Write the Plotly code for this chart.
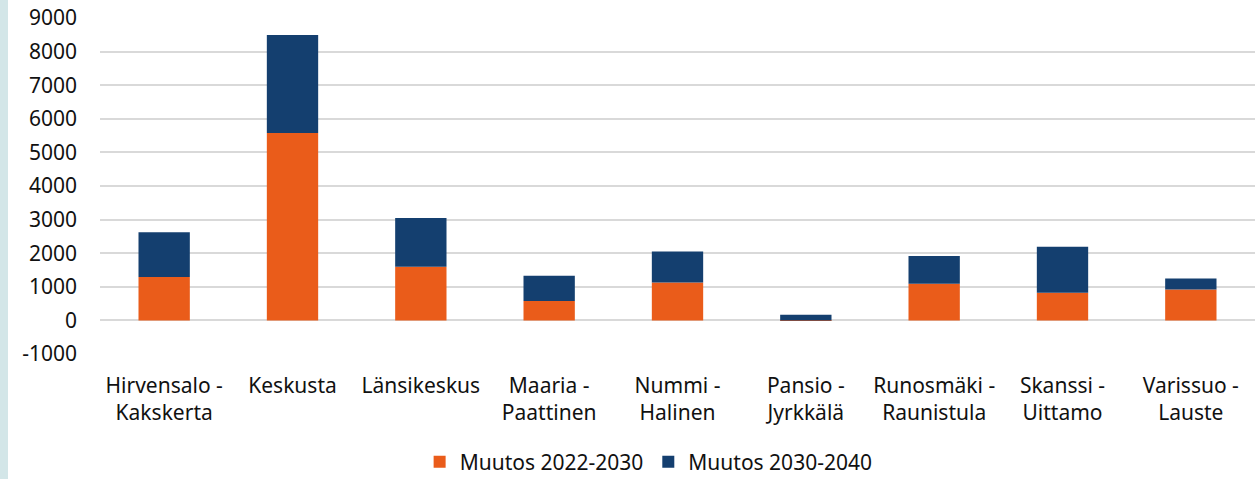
import plotly.graph_objects as go

# Alueet ja muutokset (luettu kuvasta)
alueet = ["Hirvensalo -<br>Kakskerta", "Keskusta", "Länsikeskus", "Maaria -<br>Paattinen",
          "Nummi -<br>Halinen", "Pansio -<br>Jyrkkälä", "Runosmäki -<br>Raunistula",
          "Skanssi -<br>Uittamo", "Varissuo -<br>Lauste"]
muutos_2022_2030 = [1290, 5580, 1595, 580, 1125, -15, 1090, 820, 920]
muutos_2030_2040 = [1335, 2915, 1455, 750, 925, 165, 830, 1375, 325]
y_ticks = list(range(-1000, 10000, 1000))
y_labels = [str(v) for v in y_ticks]  # tavallinen tavuviiva miinusmerkkinä

fig = go.Figure()
fig.add_trace(go.Bar(name="Muutos 2022-2030", x=alueet, y=muutos_2022_2030,
                     marker=dict(color="#EA5C1A", line=dict(width=0))))
fig.add_trace(go.Bar(name="Muutos 2030-2040", x=alueet, y=muutos_2030_2040,
                     marker=dict(color="#143F6F", line=dict(width=0))))

fig.update_layout(
    barmode="relative",
    bargap=0.6,
    width=1255, height=479,
    margin=dict(l=100, r=0, t=18, b=125, autoexpand=False),
    paper_bgcolor="white",
    plot_bgcolor="white",
    font=dict(family="Noto Sans, Open Sans, sans-serif", size=21, color="#111111"),
    legend=dict(orientation="h", x=0.475, xanchor="center", y=-0.322, yanchor="middle",
                font=dict(size=21), itemwidth=30, traceorder="normal",
                tracegroupgap=0),
    showlegend=True,
)
fig.update_yaxes(range=[-1000, 9000], tickvals=y_ticks, ticktext=y_labels, showgrid=True,
                 gridcolor="#d9d9d9", gridwidth=1.5, zeroline=False,
                 ticklabelstandoff=22, showline=False, automargin=False)
fig.update_xaxes(showline=False, ticks="", tickangle=0, ticklabelstandoff=17,
                 automargin=False)

# vaalea reunus vasemmalla
fig.add_shape(type="rect", xref="paper", yref="paper", x0=-100/1155, x1=-92/1155,
              y0=-1, y1=1.2, fillcolor="#D3E6E8", line=dict(width=0), layer="below")

fig.write_html("out.html", config={"displayModeBar": False},
               post_script="document.body.style.margin='0px';")
